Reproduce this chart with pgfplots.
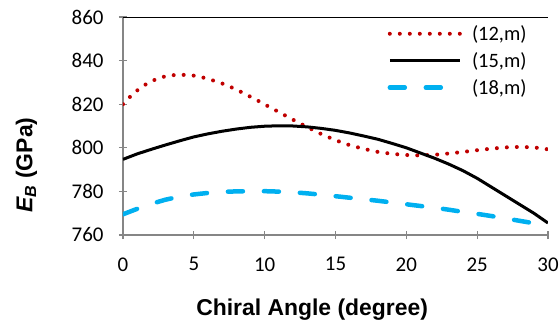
\documentclass[border=0pt]{standalone}
\usepackage{fontspec}
\setmainfont{Carlito}
\newfontfamily\arialfont{Liberation Sans}
\usepackage{pgfplots}
\pgfplotsset{compat=1.18}
\definecolor{axgray}{HTML}{868686}
\definecolor{dred}{HTML}{C00000}
\definecolor{sky}{HTML}{00B0F0}
\begin{document}
\begin{tikzpicture}
\begin{axis}[
  at={(0,0)}, anchor=south west,
  scale only axis, width=425bp, height=218bp,
  xmin=0, xmax=30, ymin=760, ymax=860,
  xtick={0,5,...,30}, ytick={760,780,...,860},
  axis x line*=bottom, axis y line*=left,
  axis line style={draw=axgray, line width=1.5bp},
  tick align=center, major tick length=8bp,
  tick style={draw=axgray, line width=1.2bp},
  /pgf/number format/assume math mode=true,
  tick label style={font=\fontsize{21}{25}\selectfont},
  xticklabel style={yshift=-15bp},
  yticklabel style={xshift=-12bp},
  xlabel={Chiral Angle (degree)},
  ylabel={\textit{E}\textsubscript{\textit{B}} (GPa)},
  label style={font=\arialfont\bfseries\fontsize{23}{27}\selectfont},
  xlabel style={at={(axis description cs:0.445,-0.344)}, anchor=center},
  ylabel style={at={(axis description cs:-0.227,0.32)}, anchor=center},
  legend style={draw=none, fill=none, at={(axis description cs:0.615,0.98)}, anchor=north west,
    font=\fontsize{20.5}{24}\selectfont, row sep=6.5bp, column sep=8bp},
  legend cell align=left,
  legend image code/.code={\draw[#1] (0bp,0bp) -- (70bp,0bp);},
  clip=true,
]
\addplot[dred, line width=4bp, line cap=round, dash pattern=on 0bp off 10bp] coordinates {
(0,820) (0.5,823.4) (1,826.3) (1.5,828.7) (2,830.5) (2.5,831.9) (3,832.8) (3.5,833.3)
(4,833.5) (4.5,833.4) (5,833.1) (5.5,832.5) (6,831.6) (6.5,830.6) (7,829.5) (7.5,828.2)
(8,826.7) (8.5,825.1) (9,823.4) (9.5,821.7) (10,819.9) (11,816.4) (12,812.9) (13,809.5)
(14,806.3) (15,803.5) (16,801.2) (17,799.5) (18,798.1) (19,797.2) (20,796.7) (21,796.5)
(22,796.8) (23,797.4) (24,798.1) (25,798.9) (26,799.6) (27,800.2) (28,800.4) (29,800.2) (30,799.3)
};
\addlegendentry{(12,m)}
\addplot[black, line width=3bp] coordinates {
(0,794.7) (1,797.2) (2,799.3) (3,801.3) (4,803.2) (5,805) (6,806.4) (7,807.6) (8,808.6)
(9,809.4) (10,809.9) (11,810.1) (12,810) (13,809.6) (14,808.9) (15,808) (16,806.8)
(17,805.4) (18,803.9) (19,802) (20,800) (21,797.6) (22,795.2) (23,792.5) (24,789.5)
(25,786) (26,782) (27,778) (28,774) (29,770) (30,765.5)
};
\addlegendentry{(15,m)}
\addplot[sky, line width=4.5bp, line cap=round, dash pattern=on 15bp off 21bp] coordinates {
(0,769.5) (1,772) (2,774.3) (3,776.2) (4,777.6) (5,778.6) (6,779.3) (7,779.8) (8,780)
(9,780.1) (10,780.1) (11,779.9) (12,779.6) (13,779.1) (14,778.5) (15,777.8) (16,777.1)
(17,776.4) (18,775.7) (19,774.9) (20,774.1) (21,773.3) (22,772.5) (23,771.6) (24,770.6)
(25,769.7) (26,768.7) (27,767.6) (28,766.5) (29,765.4) (30,764.2)
};
\addlegendentry{(18,m)}
\draw[black, line width=0.8bp] (rel axis cs:0,1) -- (rel axis cs:1,1) -- (rel axis cs:1,0);
\end{axis}
\pgfresetboundingbox
\path (-123bp,-92bp) rectangle (437bp,235bp);
\end{tikzpicture}
\end{document}
